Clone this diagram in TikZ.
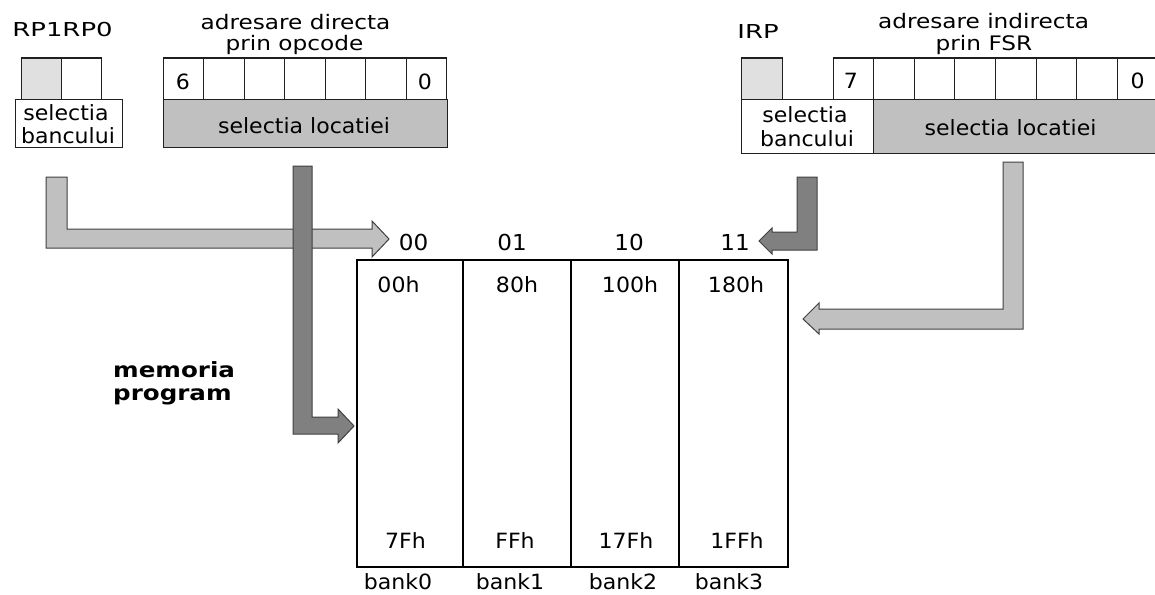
\documentclass[tikz,border=0pt]{standalone}
\usepackage{fontspec}
\setmainfont{DejaVu Sans}[FakeStretch=1.05]
\newfontfamily\widefont{DejaVu Sans}[FakeStretch=1.35]
\newfontfamily\adrfont{DejaVu Sans}[FakeStretch=1.16]
\newfontfamily\memfont{DejaVu Sans}[FakeStretch=1.17]
\definecolor{lgray}{HTML}{C0C0C0}
\definecolor{dgray}{HTML}{808080}
\definecolor{vlgray}{HTML}{E0E0E0}
\definecolor{edge}{HTML}{404040}
\definecolor{lineblk}{HTML}{202020}
\begin{document}
\begin{tikzpicture}[x=1pt,y=-1pt,
  txt/.style={inner sep=0pt, anchor=base, font=\fontsize{21}{23}\selectfont},
  big/.style={inner sep=0pt, anchor=base, font=\fontsize{22}{24}\selectfont},
  rpf/.style={inner sep=0pt, anchor=base, font=\widefont\fontsize{19.2}{22}\selectfont},
  adr/.style={inner sep=0pt, anchor=base, font=\adrfont\fontsize{20}{22}\selectfont},
  mem/.style={inner sep=0pt, anchor=base west, font=\memfont\bfseries\fontsize{21}{23}\selectfont},
  cell/.style={draw=lineblk, line width=1pt},
  arrL/.style={fill=lgray, draw=edge, line width=1pt, line join=miter},
  arrD/.style={fill=dgray, draw=edge, line width=1pt, line join=miter},
  mem box/.style={draw=black, line width=2pt}]
\useasboundingbox (0,0) rectangle (1155,594);
\clip (0,0) rectangle (1155,594);
\fill[white] (0,0) rectangle (1155,594);

% ---------- left register RP1 RP0 ----------
\node[rpf] (rp) at (62.5,37) {RP1RP0};
\draw[cell, fill=vlgray] (21,58) rectangle (61,99);
\draw[cell, fill=white] (61,58) rectangle (101,99);
\draw[cell, fill=white] (15,99) rectangle (122,147);
\node[txt] (sbL1) at (66,120) {selectia};
\node[txt] (sbL2) at (68,143) {bancului};

% ---------- opcode ----------
\node[adr] (ad1) at (295.5,29.5) {adresare directa};
\node[adr] (ad2) at (294.5,50.5) {prin opcode};
\foreach \i in {0,...,6} {
  \draw[cell, fill=white] ({163+\i*40.57},58) rectangle ({163+(\i+1)*40.57},99);
}
\node[txt] (b6) at (183,89) {6};
\node[txt] (b0) at (425,89) {0};
\draw[cell, fill=lgray] (163,99) rectangle (447,147);
\node[txt] (slL) at (304,133) {selectia locatiei};

% ---------- IRP / FSR ----------
\node[rpf] (irp) at (758,38) {IRP};
\node[adr] (ai1) at (983.5,29) {adresare indirecta};
\node[adr] (ai2) at (984,50.5) {prin FSR};
\draw[cell, fill=vlgray] (741,58) rectangle (782,99);
\foreach \i in {0,...,7} {
  \draw[cell, fill=white] ({833+\i*40.6},58) rectangle ({833+(\i+1)*40.6},99);
}
\node[txt] (f7) at (851,88) {7};
\node[txt] (f0) at (1137.5,88) {0};
\draw[cell, fill=white] (741,99) rectangle (873,153);
\node[txt] (sbR1) at (805,122) {selectia};
\node[txt] (sbR2) at (807,146.5) {bancului};
\draw[cell, fill=lgray] (873,99) rectangle (1162,153);
\node[txt] (slR) at (1010.5,135) {selectia locatiei};

% ---------- memory ----------
\draw[mem box] (357,260) rectangle (788,567);
\draw[mem box] (463,260) -- (463,567);
\draw[mem box] (571,260) -- (571,567);
\draw[mem box] (679,260) -- (679,567);

\node[big] (c00) at (413.5,250) {00};
\node[big] (c01) at (512,250) {01};
\node[big] (c10) at (629,250) {10};
\node[big] (c11) at (735,250) {11};

\node[txt] (a0) at (398.5,292) {00h};
\node[txt] (a1) at (517,292) {80h};
\node[txt] (a2) at (630,292) {100h};
\node[txt] (a3) at (736,292) {180h};

\node[txt] (e0) at (405.5,548) {7Fh};
\node[txt] (e1) at (515,548) {FFh};
\node[txt] (e2) at (626,548) {17Fh};
\node[txt] (e3) at (737,548) {1FFh};

\node[txt] (k0) at (398,589.5) {bank0};
\node[txt] (k1) at (510,589.5) {bank1};
\node[txt] (k2) at (623,589.5) {bank2};
\node[txt] (k3) at (729,589.5) {bank3};

\node[mem] (m1) at (113,377) {memoria};
\node[mem] (m2) at (113,400) {program};

% ---------- block arrows ----------
% RP1RP0 -> 00
\draw[arrL] (46,177) -- (67,177) -- (67,229) -- (372,229) -- (372,221)
  -- (389,239) -- (372,257) -- (372,248) -- (46,248) -- cycle;
% opcode -> memory
\draw[arrD] (293,166) -- (312,166) -- (312,417) -- (338,417) -- (338,409)
  -- (354,426) -- (338,443) -- (338,434) -- (293,434) -- cycle;
% IRP -> 11
\draw[arrD] (797,177) -- (817,177) -- (817,250) -- (772,250) -- (772,254)
  -- (759,241) -- (772,228) -- (772,232) -- (797,232) -- cycle;
% FSR -> memory
\draw[arrL] (1003,162) -- (1023,162) -- (1023,329) -- (819,329) -- (819,334)
  -- (803,319) -- (819,303) -- (819,309) -- (1003,309) -- cycle;
\end{tikzpicture}
\end{document}
